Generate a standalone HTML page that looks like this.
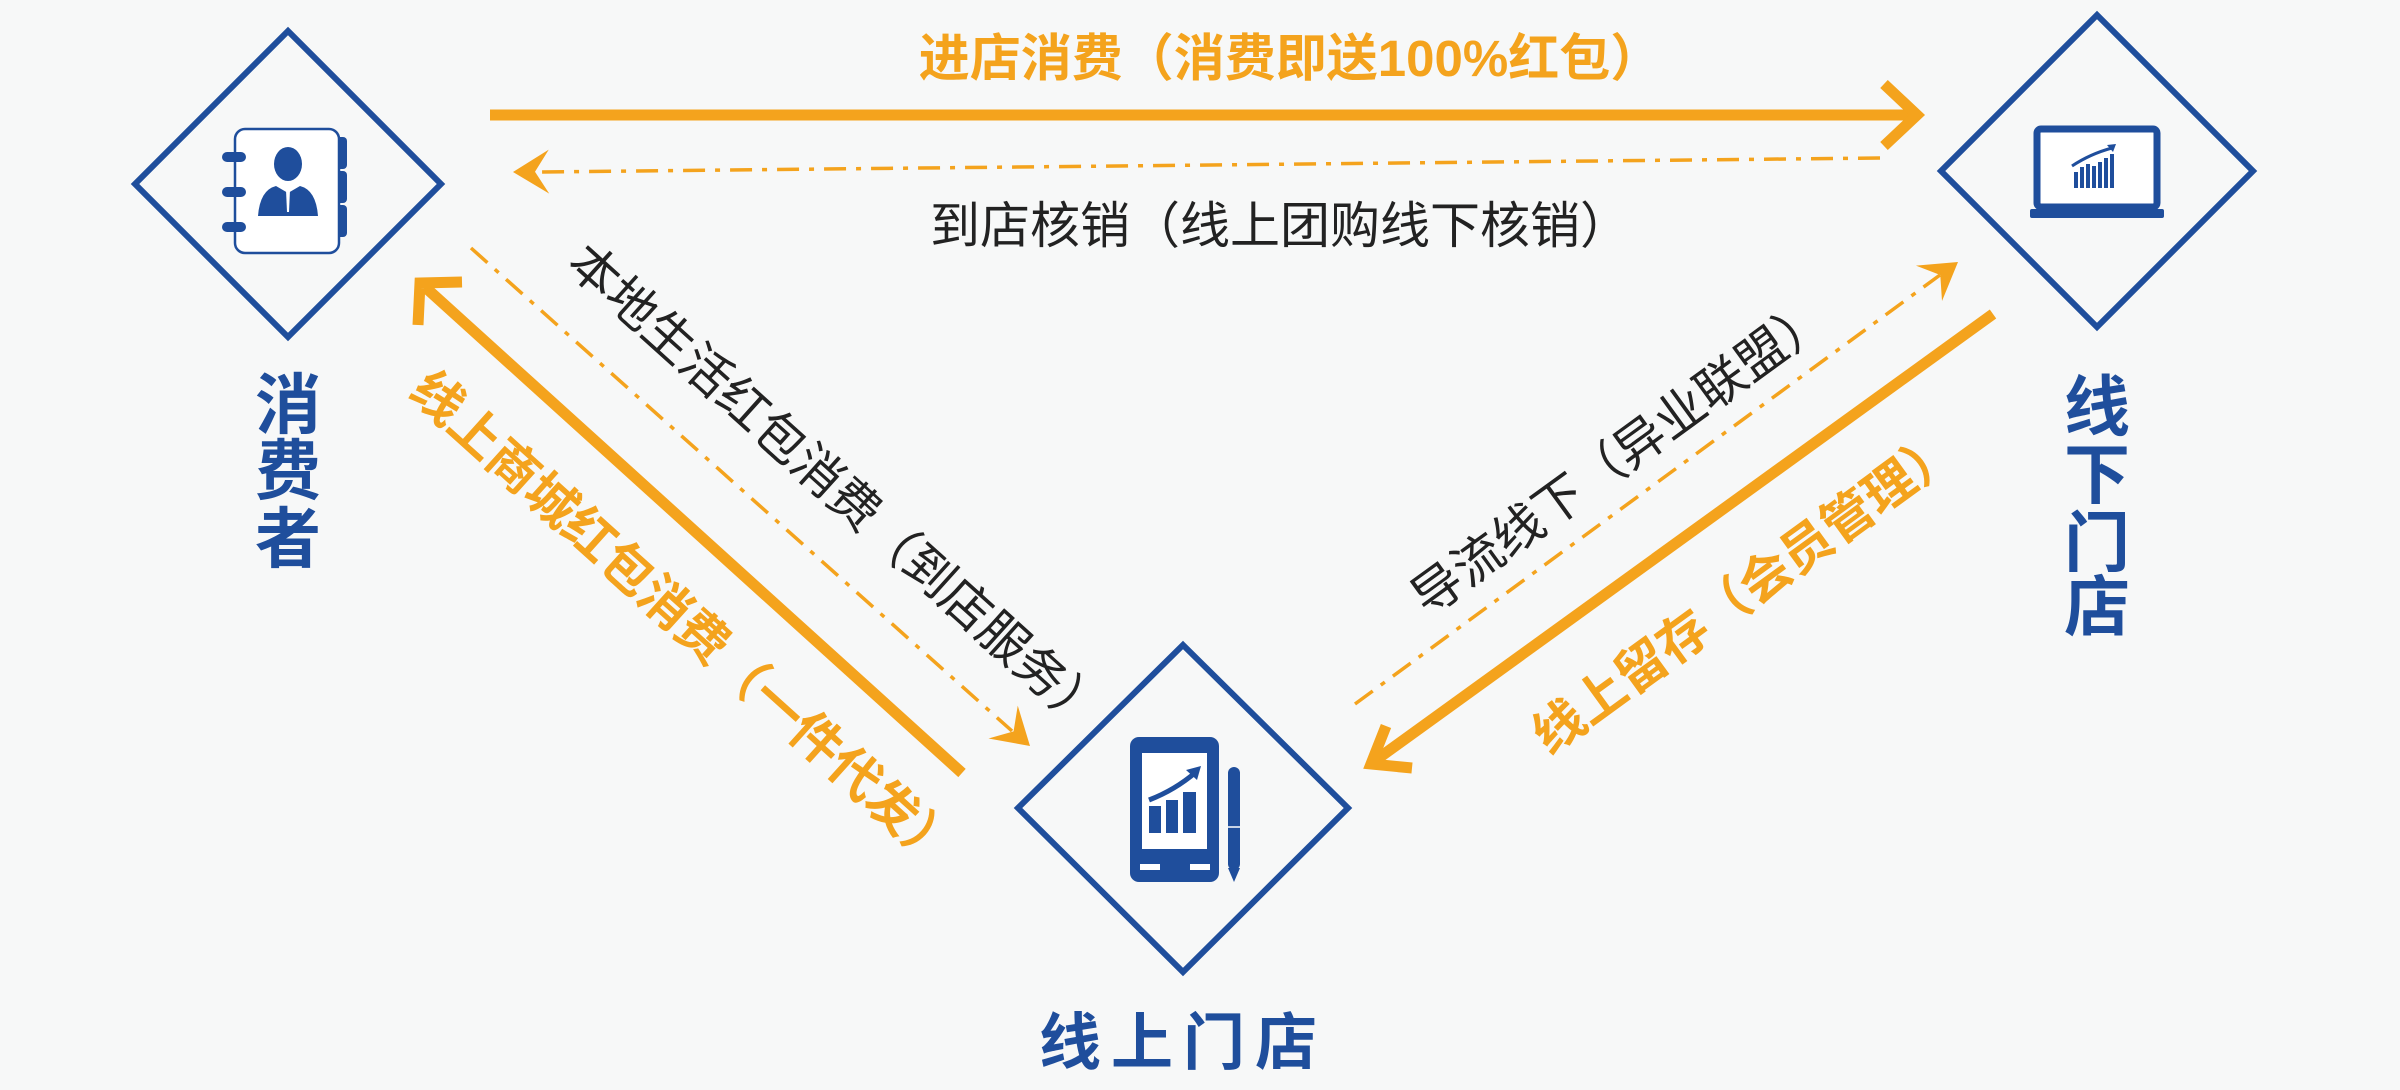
<!DOCTYPE html>
<html><head><meta charset="utf-8"><style>
html,body{margin:0;padding:0;background:#f7f8f8;}
svg{display:block;}
text{font-family:"Liberation Sans","Noto Sans CJK SC",sans-serif;}
</style></head><body>
<svg width="2400" height="1090" viewBox="0 0 2400 1090" xmlns="http://www.w3.org/2000/svg">
<rect width="2400" height="1090" fill="#f7f8f8"/>
<g fill="none" stroke="#1f4e9c" stroke-width="6">
<polygon points="288,31 441,184 288,337 135,184"/>
<polygon points="2097,15 2253,171 2097,327 1941,171"/>
<polygon points="1183,645 1348,808 1183,972 1018,808"/>
</g>
<g>
<rect x="333" y="137" width="14" height="32" rx="4" fill="#1f4e9c"/>
<rect x="333" y="171" width="14" height="32" rx="4" fill="#1f4e9c"/>
<rect x="333" y="205" width="14" height="32" rx="4" fill="#1f4e9c"/>
<rect x="235" y="129" width="104" height="124" rx="10" fill="#fff" stroke="#1f4e9c" stroke-width="2.5"/>
<rect x="222" y="152" width="24" height="10" rx="5" fill="#1f4e9c"/>
<rect x="222" y="187" width="24" height="10" rx="5" fill="#1f4e9c"/>
<rect x="222" y="222" width="24" height="10" rx="5" fill="#1f4e9c"/>
<ellipse cx="288" cy="164" rx="14" ry="17" fill="#1f4e9c"/>
<path d="M258,216 Q260,190 276,186 L288,193 L300,186 Q316,190 318,216 Z" fill="#1f4e9c"/>
<path d="M286,190 L290,190 L289,212 L287,212 Z" fill="#fff"/>
</g>
<g>
<rect x="2037" y="129" width="120" height="78" rx="4" fill="#fff" stroke="#1f4e9c" stroke-width="7"/>
<rect x="2030" y="209" width="134" height="9" rx="2" fill="#1f4e9c"/>
<g fill="#1f4e9c">
<rect x="2074" y="172" width="4" height="16"/>
<rect x="2080" y="167" width="4" height="21"/>
<rect x="2086" y="164" width="4" height="24"/>
<rect x="2092" y="166" width="4" height="22"/>
<rect x="2098" y="162" width="4" height="26"/>
<rect x="2104" y="158" width="4" height="30"/>
<rect x="2110" y="154" width="4" height="34"/>
</g>
<path d="M2072,166 Q2090,154 2112,148" fill="none" stroke="#1f4e9c" stroke-width="3"/>
<polygon points="2116,144 2107,145 2113,152" fill="#1f4e9c"/>
</g>
<g>
<rect x="1130" y="737" width="89" height="145" rx="9" fill="#1f4e9c"/>
<rect x="1142" y="753" width="65" height="96" fill="#fff"/>
<rect x="1149" y="806" width="12" height="27" fill="#1f4e9c"/>
<rect x="1166" y="800" width="12" height="33" fill="#1f4e9c"/>
<rect x="1183" y="792" width="13" height="41" fill="#1f4e9c"/>
<path d="M1149,800 Q1175,790 1196,772" fill="none" stroke="#1f4e9c" stroke-width="5"/>
<polygon points="1201,766 1186,770 1197,780" fill="#1f4e9c"/>
<rect x="1140" y="864" width="20" height="6" fill="#fff"/>
<rect x="1190" y="864" width="20" height="6" fill="#fff"/>
<rect x="1228" y="767" width="12" height="103" rx="6" fill="#1f4e9c"/>
<line x1="1228" y1="827" x2="1240" y2="827" stroke="#fff" stroke-width="1.5"/>
<polygon points="1228,868 1240,868 1234,882" fill="#1f4e9c"/>
</g>
<g fill="#1f4e9c" font-weight="bold" font-size="66" text-anchor="middle">
<text x="288" y="428">消</text>
<text x="288" y="494">费</text>
<text x="288" y="562">者</text>
<text x="2097" y="430">线</text>
<text x="2097" y="498">下</text>
<text x="2097" y="566">门</text>
<text x="2097" y="630">店</text>
<text x="1183" y="1064" font-size="62" letter-spacing="10">线上门店</text>
</g>
<g stroke="#f4a31d" fill="none" stroke-linecap="butt">
<line x1="490" y1="115" x2="1915" y2="115" stroke-width="11"/>
<polyline points="1884,84 1917,115 1884,146" stroke-width="11"/>
<line x1="1880" y1="158" x2="540" y2="172" stroke-width="3.5" stroke-dasharray="22 10 5 10"/>
<line x1="962" y1="773" x2="425" y2="287" stroke-width="11"/>
<polyline points="418,325 420,283 462,282" stroke-width="11"/>
<line x1="471" y1="248" x2="1012" y2="731" stroke-width="3.5" stroke-dasharray="22 10 5 10"/>
<line x1="1355" y1="704" x2="1940" y2="275" stroke-width="3.5" stroke-dasharray="22 10 5 10"/>
<line x1="1993" y1="314" x2="1376" y2="760" stroke-width="11"/>
<polyline points="1386,726 1371,764 1412,768" stroke-width="11"/>
</g>
<g fill="#f4a31d">
<g transform="translate(513,172) rotate(179.4)"><polygon points="0,0 -36,-22 -22,0 -36,22"/></g>
<g transform="translate(1030,746) rotate(41.7)"><polygon points="0,0 -36,-22 -22,0 -36,22"/></g>
<g transform="translate(1958,262) rotate(-36.3)"><polygon points="0,0 -36,-22 -22,0 -36,22"/></g>
</g>
<text x="1290" y="76" font-size="51" font-weight="bold" fill="#f4a31d" text-anchor="middle">进店消费（消费即送100%红包）</text>
<text x="1280" y="243" font-size="50" fill="#222" text-anchor="middle">到店核销（线上团购线下核销）</text>
<text x="0" y="0" font-size="51" font-weight="bold" fill="#f4a31d" text-anchor="middle" dominant-baseline="central" transform="translate(684,620) rotate(42)">线上商城红包消费（一件代发）</text>
<text x="0" y="0" font-size="50" fill="#222" text-anchor="middle" dominant-baseline="central" transform="translate(836,488) rotate(42)">本地生活红包消费（到店服务）</text>
<text x="0" y="0" font-size="50" fill="#222" text-anchor="middle" dominant-baseline="central" transform="translate(1620,457) rotate(-36)">导流线下（异业联盟）</text>
<text x="0" y="0" font-size="51" font-weight="bold" fill="#f4a31d" text-anchor="middle" dominant-baseline="central" transform="translate(1745,592) rotate(-36)">线上留存（会员管理）</text>
</svg>
</body></html>
